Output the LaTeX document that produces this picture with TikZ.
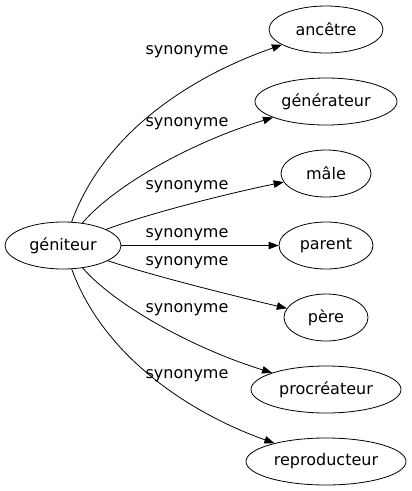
\documentclass[tikz,border=0pt]{standalone}
\usepackage{fontspec}
\setmainfont{DejaVu Sans}
\usepackage{tikz}
\usetikzlibrary{arrows,shapes}
\usetikzlibrary{arrows.meta}
\tikzstyle{entity}=[ellipse, draw, line width=0.8pt, inner sep=0pt, minimum height=47pt, font=\fontsize{16}{19}\selectfont]
\tikzstyle{relation}=[inner sep=0pt, font=\fontsize{16}{19}\selectfont]
\tikzstyle{link}=[draw, line width=0.8pt, -{Triangle[length=10pt, width=7.5pt]}]

\begin{document}
\begin{tikzpicture}[x=1pt, y=-1pt]
      %
      \path[use as bounding box] (0,0) rectangle (412,491);
      %
      % géniteur* and its synonyms*
      %
      \path node[entity, minimum width=116pt] (geniteur) at (63,245.5) {géniteur};
      \path node[entity, minimum width=114pt] (ancetre) at (326,29.5) {ancêtre};
      \path node[entity, minimum width=142pt] (generateur) at (326,101.5) {générateur};
      \path node[entity, minimum width=90pt] (male) at (326,173.5) {mâle};
      \path node[entity, minimum width=94pt] (parent) at (326,245.5) {parent};
      \path node[entity, minimum width=84pt] (pere) at (326,317.5) {père};
      \path node[entity, minimum width=150pt] (procreateur) at (326,389.5) {procréateur};
      \path node[entity, minimum width=160pt] (reproducteur) at (326,461.5) {reproducteur};
      %
      % géniteur --> ancêtre
      %
      \path [link] (geniteur) .. controls (105,130) and (195,75) .. (ancetre);
      \path node[relation] (lancetre) at (187,52) {synonyme};
      %
      % géniteur --> générateur
      %
      \path [link] (geniteur) .. controls (115,185) and (192,142) .. (generateur);
      \path node[relation] (lgenerateur) at (187,124) {synonyme};
      %
      % géniteur --> mâle
      %
      \path [link] (geniteur) .. controls (150,213) and (230,193) .. (male);
      \path node[relation] (lmale) at (187,187) {synonyme};
      %
      % géniteur --> parent
      %
      \path [link] (geniteur) -- (parent);
      \path node[relation] (lparent) at (187,235) {synonyme};
      %
      % géniteur --> père
      %
      \path [link] (geniteur) .. controls (150,275) and (230,295) .. (pere);
      \path node[relation] (lpere) at (187,263) {synonyme};
      %
      % géniteur --> procréateur
      %
      \path [link] (geniteur) .. controls (115,305) and (192,348) .. (procreateur);
      \path node[relation] (lprocreateur) at (187,310) {synonyme};
      %
      % géniteur --> reproducteur
      %
      \path [link] (geniteur) .. controls (105,360) and (195,415) .. (reproducteur);
      \path node[relation] (lreproducteur) at (187,376) {synonyme};
      %
\end{tikzpicture}
\end{document}
